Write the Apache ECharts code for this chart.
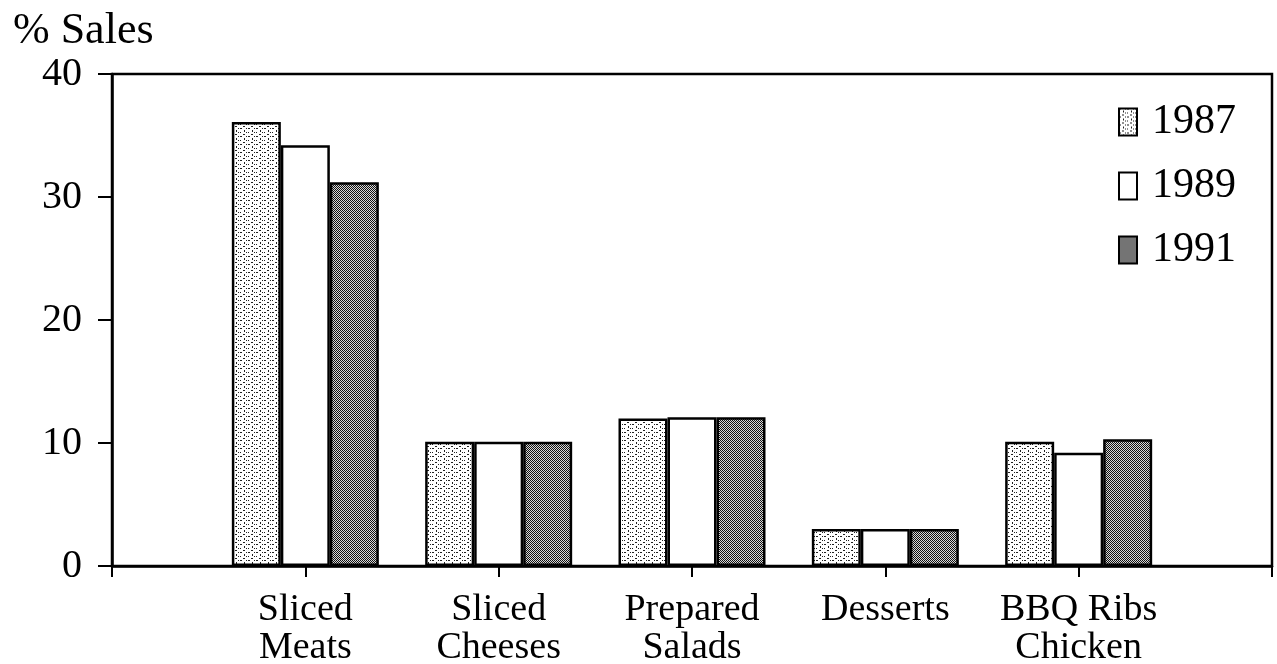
<!DOCTYPE html>
<html>
<head>
<meta charset="utf-8">
<script src="https://cdn.jsdelivr.net/npm/echarts@6/dist/echarts.min.js"></script>
<style>
  html, body { margin: 0; padding: 0; background: #fff; }
  #chart { width: 1277px; height: 664px; }
</style>
</head>
<body>
<div id="chart"></div>
<script>
// data
var categories = ['', 'Sliced\nMeats', 'Sliced\nCheeses', 'Prepared\nSalads', 'Desserts', 'BBQ Ribs\nChicken', ''];
var years = ['1987', '1989', '1991'];
var sales1987 = ['-', 36.1, 10.1, 12, 3, 10.1, '-'];
var sales1989 = ['-', 34.2, 10.1, 12.1, 3, 9.2, '-'];
var sales1991 = ['-', 31.2, 10.1, 12.1, 3, 10.3, '-'];
var yTicks = [0, 10, 20, 30, 40];

var serif = '"Liberation Serif", "DejaVu Serif", serif';

// halftone-like fills, drawn on little canvases
function dotPattern() {
    var c = document.createElement('canvas');
    c.width = 8; c.height = 8;
    var g = c.getContext('2d');
    g.fillStyle = '#fff';
    g.fillRect(0, 0, 8, 8);
    g.fillStyle = '#222';
    g.fillRect(0, 0, 2, 1);
    g.fillRect(4, 2, 1, 2);
    g.fillRect(0, 4, 1, 1);
    g.fillRect(3, 6, 2, 1);
    g.fillRect(6, 4, 1, 1);
    g.fillRect(6, 0, 1, 1);
    return c;
}
function checkPattern() {
    var c = document.createElement('canvas');
    c.width = 4; c.height = 4;
    var g = c.getContext('2d');
    g.fillStyle = '#d8d8d8';
    g.fillRect(0, 0, 4, 4);
    g.fillStyle = '#111';
    g.fillRect(0, 0, 1, 1);
    g.fillRect(2, 0, 1, 1);
    g.fillRect(1, 1, 1, 1);
    g.fillRect(3, 1, 1, 1);
    g.fillRect(0, 2, 1, 1);
    g.fillRect(2, 2, 1, 1);
    g.fillRect(1, 3, 1, 1);
    g.fillRect(3, 3, 1, 1);
    return c;
}

var fills = [
    { image: dotPattern(), repeat: 'repeat' },
    '#ffffff',
    { image: checkPattern(), repeat: 'repeat' }
];
var values = [sales1987, sales1989, sales1991];

var chart = echarts.init(document.getElementById('chart'));

var series = years.map(function (y, i) {
    return {
        name: y,
        type: 'bar',
        data: values[i],
        barWidth: 49,
        barGap: '0%',
        itemStyle: { color: fills[i], borderColor: '#000', borderWidth: 2.5 },
        emphasis: { disabled: true }
    };
});

chart.setOption({
    animation: false,
    backgroundColor: '#fff',
    title: {
        text: '% Sales',
        left: 8,
        top: 4,
        textStyle: { fontFamily: serif, fontSize: 44, fontWeight: 'normal', color: '#000' }
    },
    legend: {
        data: years,
        orient: 'vertical',
        icon: 'rect',
        right: 36,
        top: 96,
        itemWidth: 18,
        itemHeight: 27,
        itemGap: 22,
        textStyle: { fontFamily: serif, fontSize: 42, color: '#000', padding: [0, 0, 0, 10] }
    },
    grid: {
        left: 112,
        right: 5,
        top: 74,
        bottom: 98,
        outerBoundsMode: 'none',
        show: true,
        borderColor: '#000',
        borderWidth: 2.5,
        backgroundColor: 'transparent'
    },
    xAxis: {
        type: 'category',
        data: categories,
        boundaryGap: false,
        axisLine: { lineStyle: { color: '#000', width: 2.5 } },
        axisTick: { show: true, length: 11, lineStyle: { color: '#000', width: 2 } },
        axisLabel: {
            interval: 0,
            margin: 25,
            fontFamily: serif,
            fontSize: 38,
            lineHeight: 38,
            color: '#000'
        },
        splitLine: { show: false }
    },
    yAxis: {
        type: 'value',
        min: yTicks[0],
        max: yTicks[yTicks.length - 1],
        interval: 10,
        axisLine: { show: true, lineStyle: { color: '#000', width: 2.5 } },
        axisTick: { show: true, length: 14, lineStyle: { color: '#000', width: 2 } },
        axisLabel: { margin: 30, fontFamily: serif, fontSize: 40, color: '#000' },
        splitLine: { show: false }
    },
    series: series
});
</script>
</body>
</html>
